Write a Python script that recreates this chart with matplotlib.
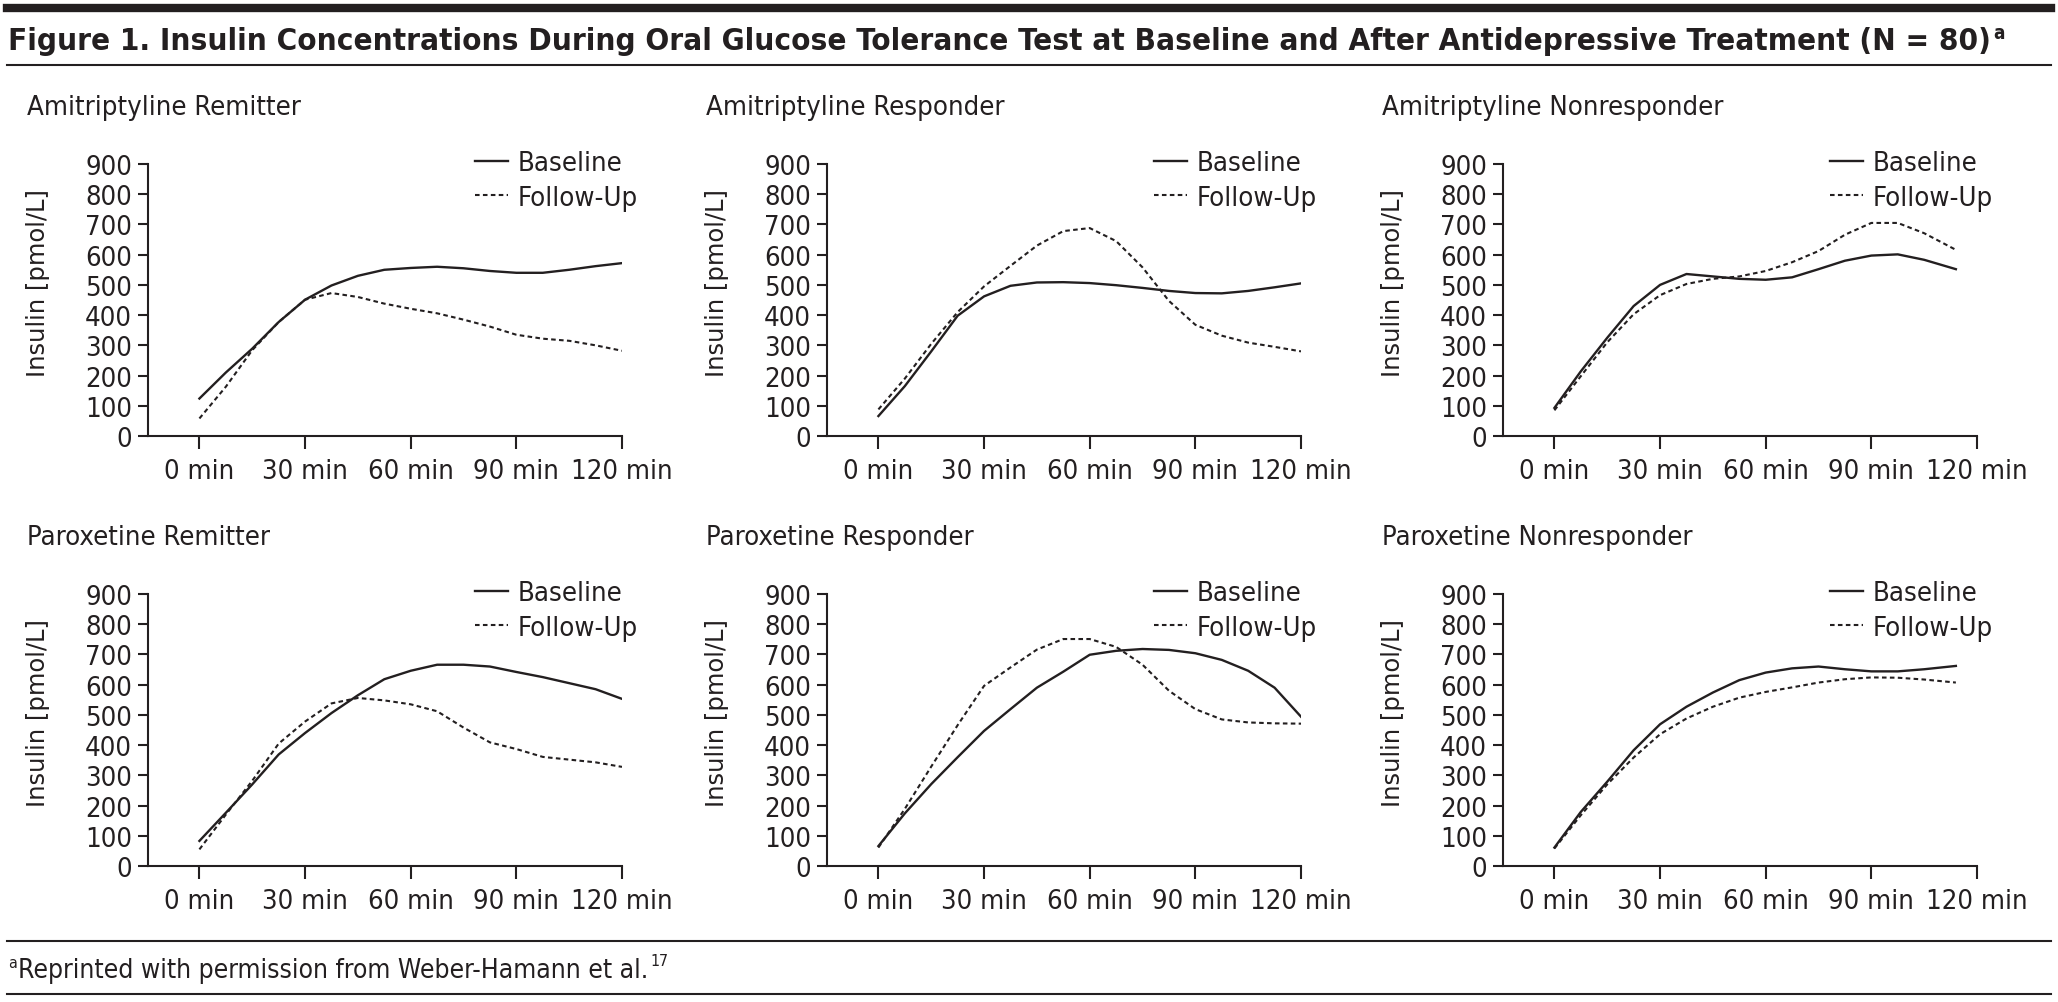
import matplotlib
matplotlib.use("Agg")
import matplotlib.pyplot as plt
from matplotlib import font_manager
from matplotlib.lines import Line2D

W, H = 2058, 1003
INK = "#231f20"

# sampling times (min)
time_full = [0, 7.5, 15, 22.5, 30, 37.5, 45, 52.5, 60, 67.5, 75, 82.5, 90, 97.5, 105, 112.5, 120]
time_short = [0, 7.5, 15, 22.5, 30, 37.5, 45, 52.5, 60, 67.5, 75, 82.5, 90, 97.5, 105, 114]

# insulin [pmol/L]
ami_rem_base = [124, 210, 289, 377, 451, 498, 530, 550, 556, 560, 555, 546, 540, 540, 550, 562, 572]
ami_rem_follow = [58, 163, 284, 377, 451, 473, 460, 438, 421, 406, 385, 362, 335, 322, 315, 300, 282]
ami_resp_base = [66, 165, 280, 398, 462, 497, 508, 509, 506, 499, 490, 480, 473, 472, 480, 492, 505]
ami_resp_follow = [88, 190, 305, 410, 495, 563, 630, 678, 688, 645, 558, 447, 368, 332, 309, 295, 280]
ami_non_base = [93, 214, 325, 430, 500, 536, 528, 520, 517, 525, 552, 580, 597, 601, 583, 552]
ami_non_follow = [85, 198, 310, 403, 466, 503, 520, 528, 546, 575, 612, 666, 705, 705, 671, 616]
par_rem_base = [83, 176, 270, 369, 440, 506, 565, 618, 646, 666, 666, 660, 642, 625, 605, 585, 553]
par_rem_follow = [55, 170, 282, 405, 478, 538, 556, 548, 535, 512, 458, 409, 387, 361, 352, 343, 328]
par_resp_base = [66, 174, 271, 360, 447, 519, 590, 643, 699, 712, 718, 715, 704, 682, 646, 590, 494]
par_resp_follow = [61, 189, 329, 466, 596, 657, 716, 751, 751, 725, 666, 580, 519, 485, 475, 472, 471]
par_non_base = [61, 179, 279, 383, 469, 527, 574, 615, 640, 654, 660, 651, 644, 644, 651, 662]
par_non_follow = [58, 168, 270, 359, 436, 488, 527, 557, 576, 591, 607, 618, 624, 623, 617, 607]

panel_titles = ["Amitriptyline Remitter", "Amitriptyline Responder", "Amitriptyline Nonresponder",
                "Paroxetine Remitter", "Paroxetine Responder", "Paroxetine Nonresponder"]
panels = [
    (time_full, ami_rem_base, ami_rem_follow),
    (time_full, ami_resp_base, ami_resp_follow),
    (time_short, ami_non_base, ami_non_follow),
    (time_full, par_rem_base, par_rem_follow),
    (time_full, par_resp_base, par_resp_follow),
    (time_short, par_non_base, par_non_follow),
]
x_ticks = [0, 30, 60, 90, 120]
x_labels = ["0 min", "30 min", "60 min", "90 min", "120 min"]
y_ticks = [0, 100, 200, 300, 400, 500, 600, 700, 800, 900]

names = {f.name for f in font_manager.fontManager.ttflist}
if "Liberation Sans Narrow" in names:
    NARROW = dict(family="Liberation Sans Narrow")
else:
    NARROW = dict(family="DejaVu Sans", stretch="condensed")
WIDE = dict(family="DejaVu Sans")

fig = plt.figure(figsize=(W / 100, H / 100), dpi=100)
fig.patch.set_facecolor("white")
r = fig.canvas.get_renderer()


def fit(txt, target):
    w = txt.get_window_extent(r).width
    txt.set_fontsize(txt.get_fontsize() * target / w)
    return txt


def hline(y, lw, x0=7, x1=2051):
    fig.add_artist(Line2D([x0 / W, x1 / W], [1 - y / H, 1 - y / H], color=INK, lw=lw))


# frame rules
hline(9, 6.0)
hline(66, 1.5)
hline(942, 1.5)
hline(995, 1.5)

title = fig.text(8 / W, 1 - 41 / H,
                 "Figure 1. Insulin Concentrations During Oral Glucose Tolerance Test at Baseline "
                 "and After Antidepressive Treatment (N = 80)",
                 ha="left", va="center", fontsize=22, fontweight="bold", color=INK, **NARROW)
fit(title, 1971)
bb = title.get_window_extent(r)
fig.text((bb.x1 + 2) / W, bb.y1 / H + 0.002, "a", ha="left", va="top",
         fontsize=title.get_fontsize() * 0.6, fontweight="bold", color=INK, **NARROW)

probe = fig.text(0, 0, "Amitriptyline Remitter", fontsize=17, **NARROW)
fit(probe, 272)
FS = probe.get_fontsize()
probe.remove()

col_left = [148, 827, 1503]
row_top = [165, 595]
ax_w, ax_h = 474, 272

for i, (t, base, follow) in enumerate(panels):
    row, col = divmod(i, 3)
    left, top = col_left[col], row_top[row]
    ax = fig.add_axes([left / W, 1 - (top + ax_h) / H, ax_w / W, ax_h / H])
    lb, = ax.plot(t, base, color=INK, lw=1.7, label="Baseline")
    lf, = ax.plot(t, follow, color=INK, lw=1.5, linestyle=(0, (2.2, 1.6)), label="Follow-Up")
    ax.set_xlim(-14.6, 120)
    ax.set_ylim(0, 900)
    ax.set_xticks(x_ticks)
    ax.set_xticklabels(x_labels)
    ax.set_yticks(y_ticks)
    for s in ["top", "right"]:
        ax.spines[s].set_visible(False)
    for s in ["left", "bottom"]:
        ax.spines[s].set_linewidth(1.5)
        ax.spines[s].set_color(INK)
    ax.tick_params(axis="x", length=9.5, width=1.5, pad=6, colors=INK)
    ax.tick_params(axis="y", length=7.5, width=1.5, pad=4, colors=INK)
    for lab in ax.get_xticklabels() + ax.get_yticklabels():
        lab.set_fontsize(FS)
        lab.set(**NARROW)
    ax.set_ylabel("Insulin [pmol/L]", fontsize=17.5, color=INK, **WIDE)
    ax.yaxis.set_label_coords(-98 / ax_w, 0.566)
    leg = ax.legend(handles=[lb, lf], loc="upper left", bbox_to_anchor=(0.69, 1.05),
                    frameon=False, borderpad=0, borderaxespad=0, handlelength=1.2,
                    handletextpad=0.35, labelspacing=0.3, prop=dict(size=FS, **NARROW))
    for txt in leg.get_texts():
        txt.set_color(INK)
    fig.text((left - 121) / W, 1 - (top - 57) / H, panel_titles[i], ha="left", va="center",
             fontsize=FS, color=INK, **NARROW)

foot = fig.text(18 / W, 1 - 971 / H, "Reprinted with permission from Weber-Hamann et al.",
                ha="left", va="center", fontsize=FS, color=INK, **NARROW)
fit(foot, 634)
fb = foot.get_window_extent(r)
fig.text(8 / W, fb.y1 / H + 0.002, "a", ha="left", va="top",
         fontsize=foot.get_fontsize() * 0.6, color=INK, **NARROW)
fig.text((fb.x1 + 2) / W, fb.y1 / H + 0.004, "17", ha="left", va="top",
         fontsize=foot.get_fontsize() * 0.6, color=INK, **NARROW)

fig.savefig("out.png", dpi=100, facecolor="white")
